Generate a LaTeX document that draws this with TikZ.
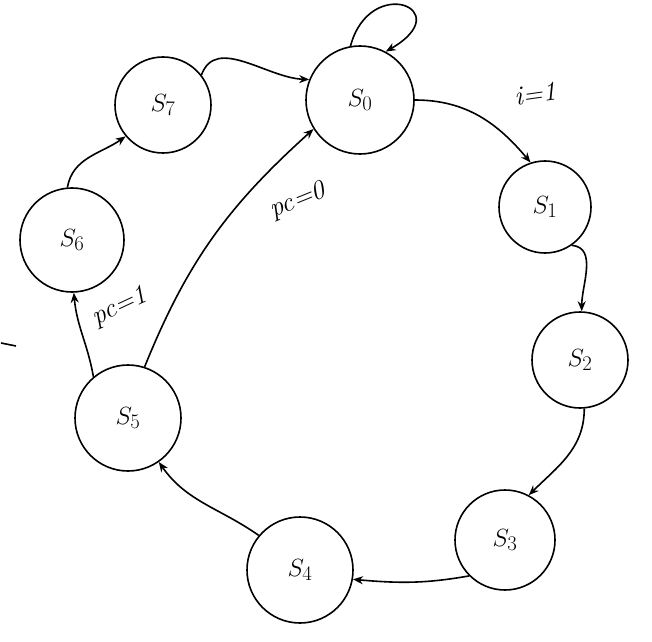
\documentclass[tikz,border=0pt]{standalone}
\usetikzlibrary{arrows.meta}
\begin{document}
\begin{tikzpicture}[x=1pt,y=1pt,
  line width=1.6pt,
  state/.style={draw, circle, inner sep=0pt, font=\fontsize{32}{34}\selectfont},
  trans/.style={-{Stealth[length=10pt,width=8pt]}},
  cond/.style={font=\fontsize{27}{29}\selectfont\itshape, inner sep=1pt}]
\useasboundingbox (0,0) rectangle (652,641);

% states
\node[state, minimum size=96pt]  (s7) at (163,536) {$S_7$};
\node[state, minimum size=108pt] (s0) at (360,541) {$S_0$};
\node[state, minimum size=92pt]  (s1) at (545,434) {$S_1$};
\node[state, minimum size=96pt]  (s2) at (580,281) {$S_2$};
\node[state, minimum size=100pt] (s3) at (505,101) {$S_3$};
\node[state, minimum size=106pt] (s4) at (300,71)  {$S_4$};
\node[state, minimum size=106pt] (s5) at (128,223) {$S_5$};
\node[state, minimum size=104pt] (s6) at (72,401)  {$S_6$};

% transitions around the ring
\draw[trans] (s7.38)  to[out=70,in=178]  (s0.158);
\draw[trans] (s0.0)   to[out=0,in=130]   (s1.108);
\draw[trans] (s1.-55) to[out=-5,in=90]   (s2.88);
\draw[trans] (s2.-85) to[out=-90,in=45]  (s3.62);
\draw[trans] (s3.-135) to[out=190,in=-5] (s4.-10);
\draw[trans] (s4.140) to[out=145,in=-55] (s5.-55);
\draw[trans] (s5.130) to[out=100,in=-85] (s6.-88);
\draw[trans] (s6.95)  to[out=80,in=215]  (s7.220);
\draw[trans] (s5.72)  to[out=68,in=222]  (s0.212);

% self loop on S0
\draw[trans] (s0.100) .. controls +(75:75) and +(30:85) .. (s0.62);

% conditions
\node[cond, rotate=8]  (c1) at (535,547) {i=1};
\node[cond, rotate=22] (c0) at (298,440) {pc=0};
\node[cond, rotate=25] (c2) at (120,334) {pc=1};

% stray pen mark at the left edge
\coordinate (m1) at (1,298);
\coordinate (m2) at (16,295);
\draw (m1) -- (m2);
\end{tikzpicture}
\end{document}
